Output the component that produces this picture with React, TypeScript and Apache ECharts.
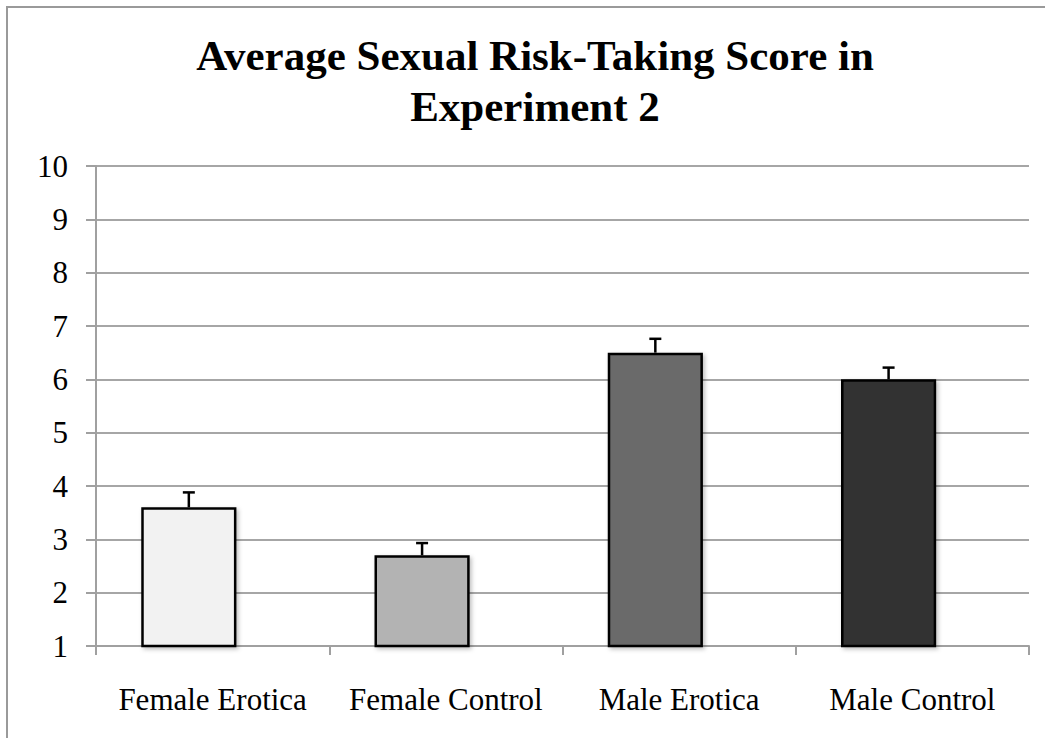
import React, { useEffect, useRef } from "react";
import * as echarts from "echarts";

const categories = ["Female Erotica", "Female Control", "Male Erotica", "Male Control"];
const means = [3.6, 2.7, 6.5, 6.0];
const errors = [0.28, 0.23, 0.26, 0.22];
const barColors = ["#f2f2f2", "#b3b3b3", "#6b6b6b", "#333333"];
const titleLines = ["Average Sexual Risk-Taking Score in", "Experiment 2"];
const yMin = 1;
const yMax = 10;

const FONT = "Liberation Serif, Times New Roman, serif";
const BAR_FRAC = 0.408;

export default function App() {
  const ref = useRef<HTMLDivElement>(null);
  useEffect(() => {
    if (!ref.current) return;
    const chart = echarts.init(ref.current, undefined, { renderer: "svg" });
    const titleStyle = (text: string, y: number) => ({
      type: "text",
      style: {
        text,
        x: 535,
        y,
        textAlign: "center",
        textVerticalAlign: "middle",
        fontFamily: FONT,
        fontWeight: "bold",
        fontSize: 43,
        fill: "#000",
      },
    });
    const option: any = {
      animation: false,
      backgroundColor: "#ffffff",
      grid: { left: 96, right: 16, top: 166, bottom: 92, containLabel: false },
      graphic: [
        {
          type: "rect",
          shape: { x: 7, y: 7, width: 1100, height: 800 },
          style: { fill: "none", stroke: "#9a9a9a", lineWidth: 2 },
          silent: true,
        },
        titleStyle(titleLines[0], 55),
        titleStyle(titleLines[1], 106),
      ],
      xAxis: {
        type: "category",
        data: categories,
        axisLine: { show: true, lineStyle: { color: "#a0a0a0", width: 2 } },
        axisTick: { show: true, length: 9, lineStyle: { color: "#a0a0a0", width: 2 } },
        axisLabel: { color: "#000", fontFamily: FONT, fontSize: 31, margin: 38, interval: 0 },
        splitLine: { show: false },
      },
      yAxis: {
        type: "value",
        min: yMin,
        max: yMax,
        interval: 1,
        axisLine: { show: true, lineStyle: { color: "#a0a0a0", width: 2 } },
        axisTick: { show: true, length: 10, lineStyle: { color: "#a0a0a0", width: 2 } },
        axisLabel: { color: "#000", fontFamily: FONT, fontSize: 31, margin: 28 },
        splitLine: { show: true, lineStyle: { color: "#a6a6a6", width: 2 } },
      },
      series: [
        {
          type: "bar",
          barWidth: `${BAR_FRAC * 100}%`,
          barGap: "-50%",
          data: means.map((v, i) => ({
            value: v,
            itemStyle: {
              color: barColors[i],
              borderColor: "#000",
              borderWidth: 2.5,
              shadowBlur: 4,
              shadowColor: "rgba(0,0,0,0.25)",
              shadowOffsetX: 2,
              shadowOffsetY: 2,
            },
          })),
          z: 3,
        },
        {
          type: "bar",
          barWidth: `${BAR_FRAC * 100}%`,
          barGap: "-50%",
          data: categories.map(() => "-"),
          z: 2,
        },
        {
          type: "custom",
          z: 5,
          data: means.map((v, i) => [i, v, errors[i]]),
          renderItem: (params: any, api: any) => {
            const idx = api.value(0);
            const v = api.value(1);
            const e = api.value(2);
            const band = api.size([1, 0])[0];
            const off = -0.25 * BAR_FRAC * band;
            const base = api.coord([idx, v]);
            const top = api.coord([idx, v + e]);
            const x = base[0] + off;
            const cap = 6;
            return {
              type: "group",
              children: [
                {
                  type: "line",
                  shape: { x1: x, y1: base[1], x2: x, y2: top[1] },
                  style: { stroke: "#000", lineWidth: 2.5 },
                },
                {
                  type: "line",
                  shape: { x1: x - cap, y1: top[1], x2: x + cap, y2: top[1] },
                  style: { stroke: "#000", lineWidth: 2.5 },
                },
              ],
            };
          },
        },
      ],
    };
    chart.setOption(option);
    return () => chart.dispose();
  }, []);
  return (
    <div
      ref={ref}
      style={{ position: "fixed", left: 0, top: 0, width: 1045, height: 738, background: "#fff" }}
    />
  );
}
